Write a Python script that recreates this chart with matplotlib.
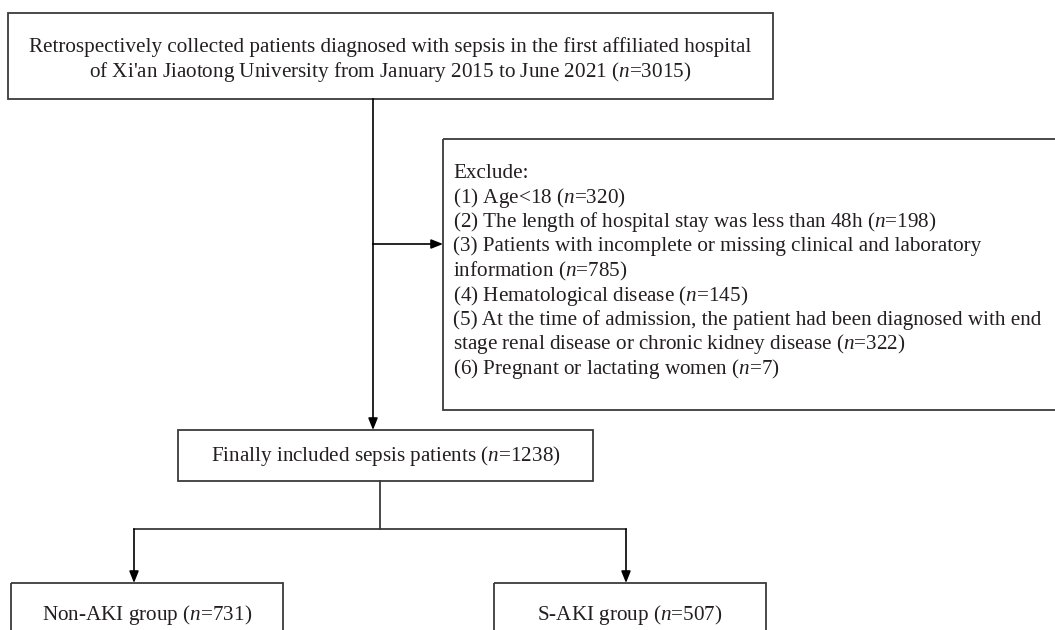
import matplotlib
matplotlib.use("Agg")
import matplotlib.pyplot as plt
from matplotlib.patches import Rectangle

plt.rcParams['font.family'] = ['Liberation Serif', 'DejaVu Serif']
plt.rcParams['mathtext.fontset'] = 'custom'
plt.rcParams['mathtext.rm'] = 'Liberation Serif'
plt.rcParams['mathtext.it'] = 'Liberation Serif:italic'

# flowchart content
top_lines = ["Retrospectively collected patients diagnosed with sepsis in the first affiliated hospital",
             "of Xi'an Jiaotong University from January 2015 to June 2021"]
n_total = 3015
exclude_items = ["(1) Age<18", "(2) The length of hospital stay was less than 48h",
                 "(3) Patients with incomplete or missing clinical and laboratory\ninformation",
                 "(4) Hematological disease",
                 "(5) At the time of admission, the patient had been diagnosed with end\nstage renal disease or chronic kidney disease",
                 "(6) Pregnant or lactating women"]
exclude_n = [320, 198, 785, 145, 322, 7]
n_final = 1238
groups = ["Non-AKI group", "S-AKI group"]
group_n = [731, 507]

line_col = '#3a3a3a'
txt_col = '#231f20'
fs = 15.2

fig = plt.figure(figsize=(10.55, 6.30), dpi=100)
ax = fig.add_axes([0, 0, 1, 1])
ax.set_xlim(0, 1055)
ax.set_ylim(630, 0)
ax.axis('off')


def box(x0, y0, x1, y1):
    ax.add_patch(Rectangle((x0, y0), x1 - x0, y1 - y0, fill=False,
                           edgecolor=line_col, linewidth=1.3))


def nlab(v):
    return " ($n$=%d)" % v


def arrow(x0, y0, x1, y1):
    ax.annotate("", xy=(x1, y1), xytext=(x0, y0),
                arrowprops=dict(arrowstyle='-|>,head_length=0.5,head_width=0.2',
                                color='black', lw=1.2, shrinkA=0, shrinkB=0,
                                mutation_scale=14))


# top box
box(8, 13, 773, 99)
ax.text(390, 47, top_lines[0], ha='center', va='center', fontsize=fs, color=txt_col)
ax.text(390, 72, top_lines[1] + nlab(n_total), ha='center', va='center', fontsize=fs, color=txt_col)

# exclusion box (runs off right edge)
box(443, 139, 1075, 410)
lines = ["Exclude:"]
for item, v in zip(exclude_items, exclude_n):
    parts = item.split("\n")
    parts[-1] = parts[-1] + nlab(v)
    lines.extend(parts)
for i, s in enumerate(lines):
    ax.text(453, 173 + 24.5 * i, s, ha='left', va='center', fontsize=fs, color=txt_col)

# main flow
ax.plot([373, 373], [99, 244], color='black', lw=1.2)
arrow(373, 244, 443, 244)
arrow(373, 244, 373, 430)

box(178, 430, 593, 481)
ax.text(385.5, 456, "Finally included sepsis patients" + nlab(n_final),
        ha='center', va='center', fontsize=fs, color=txt_col)

ax.plot([380, 380], [481, 529], color=line_col, lw=1.3)
ax.plot([134, 626], [529, 529], color=line_col, lw=1.3)

# group boxes
gx = [(11, 283), (494, 766)]
ax_x = [134, 626]
for (x0, x1), axx, g, v in zip(gx, ax_x, groups, group_n):
    arrow(axx, 529, axx, 583)
    box(x0, 583, x1, 660)
    ax.text((x0 + x1) / 2, 615, g + nlab(v), ha='center', va='center',
            fontsize=fs, color=txt_col)

fig.savefig("out.png", dpi=100)
